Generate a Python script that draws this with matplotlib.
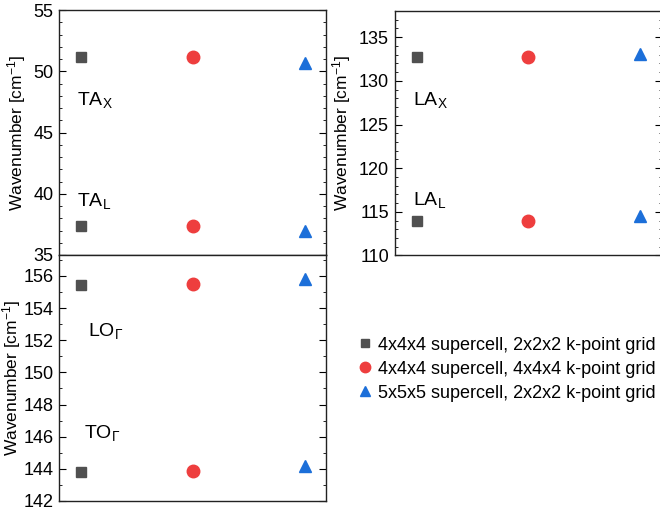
import matplotlib.pyplot as plt
from matplotlib.ticker import MultipleLocator
from matplotlib.lines import Line2D

plt.rcParams['font.family'] = ['Liberation Sans', 'DejaVu Sans']
plt.rcParams['mathtext.fontset'] = 'custom'
plt.rcParams['mathtext.rm'] = 'Liberation Sans'
plt.rcParams['mathtext.it'] = 'Liberation Sans'

# x positions of the three calculation setups
setups = [1, 2, 3]
labels = ["4x4x4 supercell, 2x2x2 k-point grid",
          "4x4x4 supercell, 4x4x4 k-point grid",
          "5x5x5 supercell, 2x2x2 k-point grid"]

# wavenumbers (cm^-1), one value per setup
ta_x = [51.15, 51.2, 50.7]
ta_l = [37.35, 37.4, 37.0]
la_x = [132.7, 132.75, 133.1]
la_l = [113.9, 113.9, 114.5]
lo_g = [155.45, 155.5, 155.8]
to_g = [143.8, 143.85, 144.2]

markers = ['s', 'o', '^']
colors = ['#505050', '#ee3e3e', '#1c6fd9']
msizes = [7.5, 9, 9]

fig = plt.figure(figsize=(6.6, 5.12), dpi=100)
ax_ta = fig.add_axes([0.0894, 0.502, 0.4045, 0.478])
ax_la = fig.add_axes([0.598, 0.501, 0.4045, 0.4775])
ax_op = fig.add_axes([0.0894, 0.0215, 0.4045, 0.4805])

def draw(ax, series, ylim, major, minor, lpad):
    for vals in series:
        for k in range(3):
            ax.plot(setups[k], vals[k], linestyle='none', marker=markers[k],
                    color=colors[k], markersize=msizes[k])
    ax.set_xlim(0.805, 3.19)
    ax.set_ylim(*ylim)
    ax.set_xticks([])
    ax.yaxis.set_major_locator(MultipleLocator(major))
    ax.yaxis.set_minor_locator(MultipleLocator(minor))
    ax.tick_params(axis='y', which='both', direction='in', right=True,
                   labelsize=13, pad=4)
    ax.tick_params(axis='y', which='major', length=5)
    ax.tick_params(axis='y', which='minor', length=2.5)
    for s in ax.spines.values():
        s.set_linewidth(1.0)
        s.set_color('#222222')
    ax.set_ylabel("Wavenumber [cm$^{-1}$]", fontsize=12.5, labelpad=lpad)

draw(ax_ta, [ta_x, ta_l], (35, 55), 5, 1, 4)
draw(ax_la, [la_x, la_l], (110, 138), 5, 1, 4)
draw(ax_op, [lo_g, to_g], (142, 157.3), 2, 1, 0)

ax_ta.text(0.97, 47.7, "TA$_\\mathrm{X}$", fontsize=14, va='center')
ax_ta.text(0.97, 39.4, "TA$_\\mathrm{L}$", fontsize=14, va='center')
ax_la.text(0.97, 127.8, "LA$_\\mathrm{X}$", fontsize=14, va='center')
ax_la.text(0.97, 116.4, "LA$_\\mathrm{L}$", fontsize=14, va='center')
ax_op.text(1.06, 152.6, "LO$_\\Gamma$", fontsize=14, va='center')
ax_op.text(1.03, 146.2, "TO$_\\Gamma$", fontsize=14, va='center')

handles = [Line2D([], [], linestyle='none', marker=markers[k], color=colors[k],
                  markersize=msizes[k] - 1.5) for k in range(3)]
fig.legend(handles, labels, loc='center left', bbox_to_anchor=(0.54, 0.279),
           frameon=False, fontsize=13, handletextpad=0.3, labelspacing=0.38,
           handlelength=0.9, borderaxespad=0, borderpad=0)

fig.savefig('out.png', dpi=100)
